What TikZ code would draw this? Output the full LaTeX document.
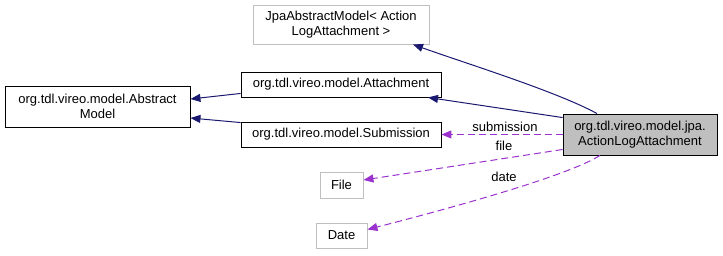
\documentclass[tikz,border=0pt]{standalone}
\usepackage{fontspec}
\setmainfont{Liberation Sans}
\usetikzlibrary{arrows.meta,calc}
\definecolor{inhcol}{HTML}{191970}
\definecolor{usecol}{HTML}{9A32CD}
\definecolor{extgray}{HTML}{BFBFBF}
\begin{document}
\begin{tikzpicture}[x=1pt,y=-1pt,
  cls/.style={draw=black,fill=white,line width=0.9pt,inner sep=0pt,align=center,
    font=\fontsize{13}{15}\selectfont},
  extcls/.style={cls,draw=extgray},
  focus/.style={cls,fill=extgray},
  inh/.style={draw=inhcol,line width=1pt,-{Triangle[length=10pt,width=8pt]}},
  uses/.style={draw=usecol,line width=1pt,dash pattern=on 7pt off 4pt,
    -{Triangle[length=10pt,width=8pt]}},
  lbl/.style={font=\fontsize{13}{15}\selectfont,inner sep=0pt}]
\useasboundingbox (0,0) rectangle (723,255);

% classes
\node[cls,minimum width=185pt,minimum height=41pt] (am) at (97.5,106.5)
  {org.tdl.vireo.model.Abstract\\Model};
\node[extcls,minimum width=176pt,minimum height=39pt] (jam) at (341,24.5)
  {JpaAbstractModel< Action\\LogAttachment >};
\node[cls,minimum width=200pt,minimum height=25pt] (att) at (341,84.5)
  {org.tdl.vireo.model.Attachment};
\node[cls,minimum width=200pt,minimum height=25pt] (sub) at (341,134.5)
  {org.tdl.vireo.model.Submission};
\node[focus,minimum width=154pt,minimum height=41pt] (jpa) at (640,134.5)
  {org.tdl.vireo.model.jpa.\\ActionLogAttachment};
\node[extcls,minimum width=43pt,minimum height=26pt] (file) at (341.5,185) {File};
\node[extcls,minimum width=51pt,minimum height=25pt] (date) at (341.5,235.5) {Date};

% inheritance
\draw[inh] ($(jpa.north)+(-43,0)$) .. controls +(-40,-22) and +(50,18) .. ($(jam.south)+(72,0)$);
\draw[inh] ($(jpa.north west)+(0,4)$) -- ($(att.south)+(87,0)$);
\draw[inh] ($(att.south west)+(0,-4)$) -- ($(am.east)+(0,-7.5)$);
\draw[inh] ($(sub.north west)+(0,1)$) -- ($(am.east)+(0,11.5)$);

% usage relations
\draw[uses] (jpa.west) -- (sub.east);
\draw[uses] ($(jpa.west)+(0,15)$) -- ($(file.east)+(0,-5)$);
\draw[uses] ($(jpa.south)+(-40,0)$) .. controls +(-35,22) and +(70,-18) .. ($(date.east)+(0,-6)$);

% labels
\node[lbl] (lsub) at (505,127) {submission};
\node[lbl] (lfile) at (504,146) {file};
\node[lbl] (ldate) at (504,177) {date};
\end{tikzpicture}
\end{document}
